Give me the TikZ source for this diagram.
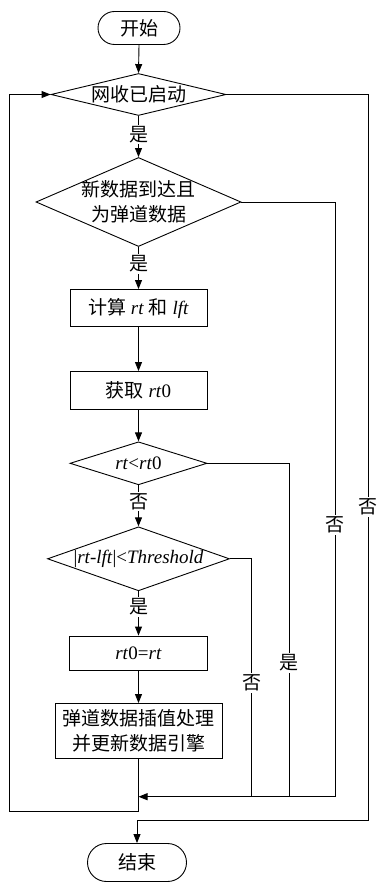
\documentclass[tikz,border=0pt]{standalone}
\usepackage{fontspec}
\setmainfont{Liberation Serif}
\newfontfamily\cjk{Noto Sans CJK SC}
\usetikzlibrary{shapes.geometric,shapes.misc,arrows.meta}
\begin{document}
\begin{tikzpicture}[x=1pt,y=-1pt, line width=0.9pt,
  every node/.style={font=\fontsize{19}{25}\selectfont},
  cjkt/.style={font=\fontsize{19}{25}\selectfont\cjk},
  term/.style={draw, rounded rectangle, inner sep=0pt, cjkt},
  proc/.style={draw, rectangle, inner sep=0pt, align=center},
  dia/.style={draw, diamond, inner sep=0pt},
  arr/.style={-{Triangle[length=9pt,width=7pt]}},
  lbl/.style={fill=white, inner sep=1.5pt, cjkt}]
\useasboundingbox (0,0) rectangle (377,882);
% nodes
\node[term, minimum width=82pt, minimum height=33pt] (s) at (139,28) {开始};
\node[dia, minimum width=175pt, minimum height=42pt] (d1) at (138.5,94.5) {};
\node[cjkt] (t1) at (d1) {网收已启动};
\node[dia, minimum width=205pt, minimum height=89pt] (d2) at (138.5,202) {};
\node[cjkt, align=center] (t2) at (d2) {新数据到达且\\为弹道数据};
\node[proc, minimum width=137pt, minimum height=37pt] (b1) at (138.5,308) {{\cjk 计算} \textit{rt} {\cjk 和} \textit{lft}};
\node[proc, minimum width=137pt, minimum height=38pt] (b2) at (138.5,390.5) {{\cjk 获取} \textit{rt}0};
\node[dia, minimum width=137pt, minimum height=43pt] (d3) at (138.5,463.3) {};
\node (t3) at (d3) {\textit{rt}<\textit{rt}0};
\node[dia, minimum width=182pt, minimum height=64pt] (d4) at (138.5,558.8) {};
\node (t4) at (d4) {|\textit{rt-lft}|<\textit{Threshold}};
\node[proc, minimum width=138pt, minimum height=34pt] (b3) at (138.5,653) {\textit{rt}0=\textit{rt}};
\node[proc, cjkt, minimum width=167pt, minimum height=55pt] (b4) at (138.5,731) {弹道数据插值处理\\并更新数据引擎};
\node[term, minimum width=99pt, minimum height=38pt] (e) at (137,862.5) {结束};
% coordinates
\coordinate (m) at (138.5,796.7);
\coordinate (lp) at (9,811);
\coordinate (rp) at (368.3,820);
\coordinate (c2) at (335,796.7);
\coordinate (c3) at (289.3,796.7);
\coordinate (c4) at (251.7,796.7);
% connectors
\draw[arr] (s.south) -- (d1.north);
\draw[arr] (d1.south) -- node[lbl, pos=0.45] (l1) {是} (d2.north);
\draw[arr] (d2.south) -- node[lbl, pos=0.4] (l2) {是} (b1.north);
\draw[arr] (b1.south) -- (b2.north);
\draw[arr] (b2.south) -- (d3.north);
\draw[arr] (d3.south) -- node[lbl, pos=0.4] (l3) {否} (d4.north);
\draw[arr] (d4.south) -- node[lbl, pos=0.35] (l4) {是} (b3.north);
\draw[arr] (b3.south) -- (b4.north);
\draw[arr] (d2.east) -| (c2) -- (m);
\draw (d3.east) -| (c3);
\draw (d4.east) -| (c4);
\draw[arr] (b4.south) |- (lp) |- (d1.west);
\draw[arr] (d1.east) -| (rp) -| (e.north);
% side labels
\node[lbl] (n1) at (368.3,507) {否};
\node[lbl] (n2) at (335,525) {否};
\node[lbl] (n3) at (289.3,663) {是};
\node[lbl] (n4) at (251.7,683) {否};
\end{tikzpicture}
\end{document}
